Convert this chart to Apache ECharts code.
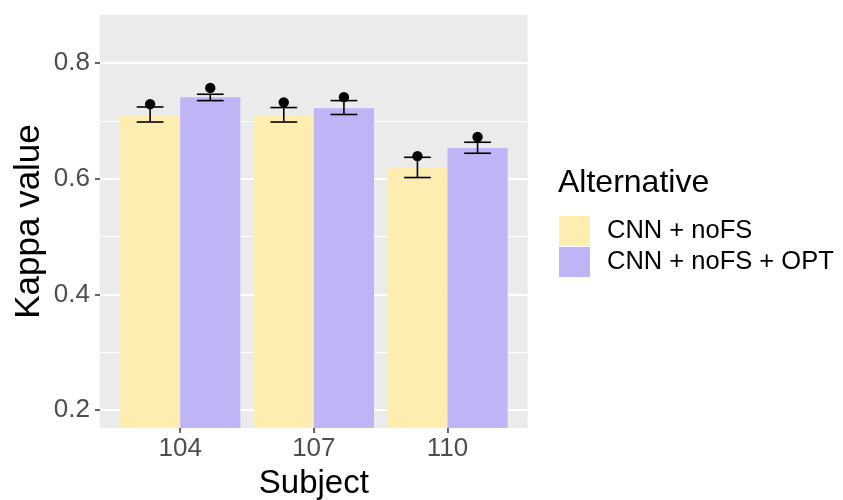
<!DOCTYPE html>
<html>
<head>
<meta charset="utf-8">
<script src="https://cdn.jsdelivr.net/npm/echarts@6/dist/echarts.min.js"></script>
<style>html,body{margin:0;padding:0;background:#fff}#chart{width:843px;height:500px}</style>
</head>
<body>
<div id="chart"></div>
<script>
// ---- data ----
var subjects = ['104', '107', '110'];
var seriesNames = ['CNN + noFS', 'CNN + noFS + OPT'];
var barNoFS = [0.710, 0.710, 0.620];
var barOPT = [0.741, 0.722, 0.653];
var lowNoFS = [0.698, 0.698, 0.602];
var highNoFS = [0.724, 0.723, 0.637];
var pointNoFS = [0.729, 0.732, 0.639];
var lowOPT = [0.735, 0.711, 0.644];
var highOPT = [0.746, 0.735, 0.663];
var pointOPT = [0.757, 0.741, 0.672];
var yMajorBreaks = [0.2, 0.4, 0.6, 0.8];
var yMinorBreaks = [0.3, 0.5, 0.7];
var yLimits = [0.169, 0.883];

// ---- layout ----
var colors = ['#FDEDB0', '#BEB4F6'];
var dodge = 0.225;      // half of a dodged bar width (ggplot width 0.9 / 2 / 2)
var barFrac = 0.45;     // bar width in x units
var capFrac = 0.2;      // errorbar width in x units
var xPositions = subjects.map(function (s, i) { return i + 1; });

var chart = echarts.init(document.getElementById('chart'), null, {renderer: 'canvas'});
var gridLeft = 100, gridRight = 315.3;
var gridW = 843 - gridLeft - gridRight;
var pxPerUnit = gridW / 3.2;
var FONT = 'Liberation Sans, Arial, sans-serif';

function barData(vals) { return vals.map(function (v, i) { return [xPositions[i], v]; }); }
function errData(lo, hi, pt) { return lo.map(function (v, i) { return [xPositions[i], v, hi[i], pt[i]]; }); }

function makeErr(offset) {
  return function (params, api) {
    var x = api.value(0) + offset;
    var lo = api.coord([x, api.value(1)]);
    var hi = api.coord([x, api.value(2)]);
    var pt = api.coord([x, api.value(3)]);
    var half = api.size([capFrac, 0])[0] / 2;
    var st = {stroke: '#000', lineWidth: 1.6};
    return {
      type: 'group',
      children: [
        {type: 'line', shape: {x1: lo[0], y1: lo[1], x2: hi[0], y2: hi[1]}, style: st},
        {type: 'line', shape: {x1: lo[0] - half, y1: lo[1], x2: lo[0] + half, y2: lo[1]}, style: st},
        {type: 'line', shape: {x1: hi[0] - half, y1: hi[1], x2: hi[0] + half, y2: hi[1]}, style: st},
        {type: 'circle', shape: {cx: pt[0], cy: pt[1], r: 5.2}, style: {fill: '#000'}}
      ]
    };
  };
}

function gridLines(vals, w) {
  return vals.map(function (v) { return {yAxis: v, lineStyle: {color: '#fff', width: w, type: 'solid'}}; });
}

var option = {
  animation: false,
  backgroundColor: '#fff',
  textStyle: {fontFamily: FONT},
  grid: {left: gridLeft, right: gridRight, top: 15, bottom: 72, show: true, backgroundColor: '#EBEBEB',
    borderWidth: 0, containLabel: false, outerBoundsMode: 'none'},
  title: {
    text: 'Alternative', left: 558, top: 167, padding: 0,
    textStyle: {fontSize: 32, fontWeight: 'normal', color: '#000', fontFamily: FONT}
  },
  legend: {
    orient: 'vertical', left: 559, top: 216, padding: 0,
    itemWidth: 31, itemHeight: 30, itemGap: 1,
    icon: 'rect',
    data: seriesNames,
    textStyle: {fontSize: 25.5, color: '#000', padding: [0, 0, 0, 12], fontFamily: FONT}
  },
  xAxis: {
    type: 'value', min: 0.4, max: 3.6,
    name: 'Subject', nameLocation: 'middle', nameGap: 39, nameMoveOverlap: false,
    nameTextStyle: {fontSize: 33, color: '#000'},
    axisLine: {show: false},
    axisTick: {show: true, customValues: xPositions, length: 5, lineStyle: {color: '#333', width: 1.5}},
    axisLabel: {customValues: xPositions, fontSize: 26, color: '#4D4D4D', margin: 8,
      formatter: function (v) { return subjects[Math.round(v) - 1] || ''; }},
    splitLine: {show: false}
  },
  yAxis: {
    type: 'value', min: yLimits[0], max: yLimits[1],
    name: 'Kappa value', nameLocation: 'middle', nameGap: 53, nameMoveOverlap: false,
    nameTextStyle: {fontSize: 35, color: '#000'},
    axisLine: {show: false},
    axisTick: {show: true, customValues: yMajorBreaks, length: 5, lineStyle: {color: '#333', width: 1.5}},
    axisLabel: {customValues: yMajorBreaks, fontSize: 26, color: '#4D4D4D', margin: 10,
      formatter: function (v) { return v.toFixed(1); }},
    splitLine: {show: false}
  },
  series: [
    {
      name: seriesNames[0], type: 'bar', data: barData(barNoFS),
      barWidth: barFrac * pxPerUnit, barGap: '0%',
      itemStyle: {color: colors[0]},
      markLine: {silent: true, symbol: 'none', label: {show: false}, z: 1,
        data: gridLines(yMinorBreaks, 1).concat(gridLines(yMajorBreaks, 2))},
      z: 2
    },
    {
      name: seriesNames[1], type: 'bar', data: barData(barOPT),
      barWidth: barFrac * pxPerUnit, barGap: '0%',
      itemStyle: {color: colors[1]},
      z: 2
    },
    {
      type: 'custom', name: 'err1', data: errData(lowNoFS, highNoFS, pointNoFS),
      renderItem: makeErr(-dodge), encode: {x: 0, y: [1, 2, 3]}, z: 5, clip: false
    },
    {
      type: 'custom', name: 'err2', data: errData(lowOPT, highOPT, pointOPT),
      renderItem: makeErr(dodge), encode: {x: 0, y: [1, 2, 3]}, z: 5, clip: false
    }
  ]
};
chart.setOption(option);
</script>
</body>
</html>
